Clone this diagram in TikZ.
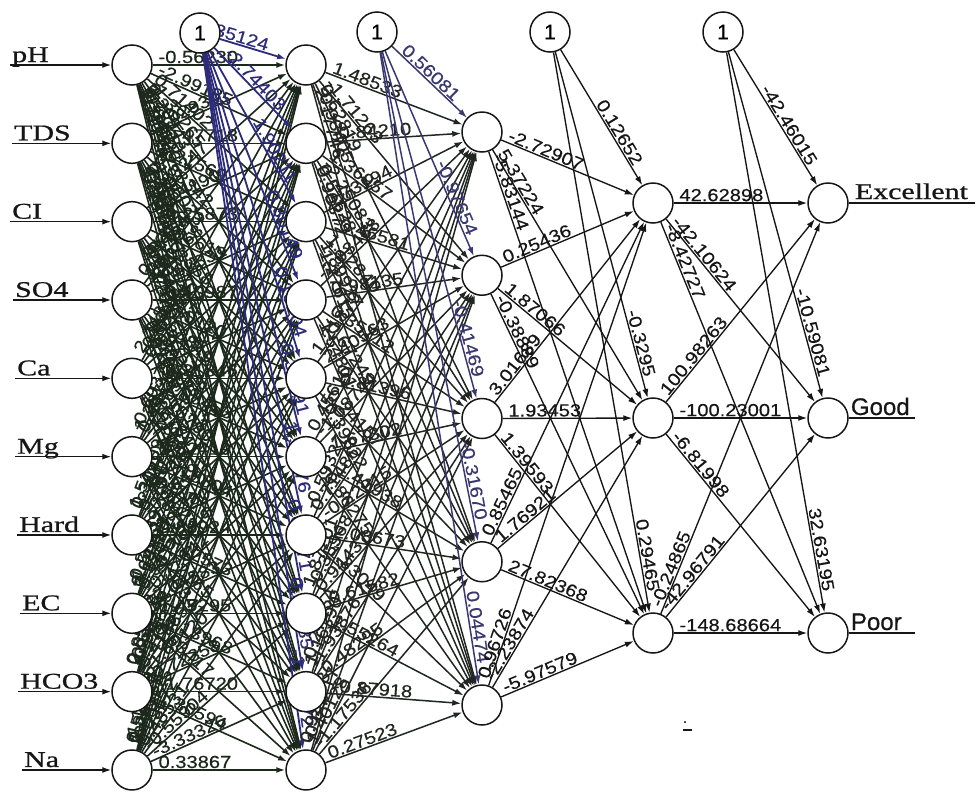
\documentclass[tikz,border=0pt]{standalone}
\usepackage{fontspec}
\setmainfont{Liberation Serif}
\newfontfamily\wfont{Liberation Sans}[FakeStretch=1.15, FakeBold=0.4]
\newfontfamily\widerm{Liberation Serif}[FakeStretch=1.33, FakeBold=0.8]
\newfontfamily\outsans{Liberation Sans}[FakeBold=0.5]
\usetikzlibrary{arrows.meta}
\pgfdeclarelayer{paper}
\pgfdeclarelayer{wires}
\pgfsetlayers{paper,wires,main}

\definecolor{ink}{RGB}{22,22,22}
\definecolor{inkgreen}{RGB}{28,40,28}
\definecolor{inkgrey}{RGB}{34,38,34}
\definecolor{inkblue}{RGB}{44,44,122}
\definecolor{inkviolet}{RGB}{58,56,112}

\tikzset{
  neuron/.style={circle, draw=ink, fill=white, line width=1.5pt, minimum size=40pt, inner sep=0pt},
  bias/.style={neuron, font=\outsans\fontsize{21}{21}\selectfont},
  wire/.style={draw=ink, line width=1.35pt, -{Latex[length=9pt,width=6pt]}},
  plain/.style={draw=ink, line width=1.35pt},
  wl/.style={font=\wfont\fontsize{17.5}{17.5}\selectfont, text=ink, sloped, pos=0, anchor=south west, inner xsep=5pt, inner ysep=1pt},
  bl/.style={wl, pos=1, anchor=south east, inner xsep=20pt},
  inwire/.style={wire, draw=inkgreen, line width=1.6pt},
  inlab/.style={wl, text=inkgreen},
  midwire/.style={wire, draw=inkgrey, line width=1.5pt},
  midlab/.style={wl, text=inkgrey},
  bluewire/.style={wire, draw=inkblue, line width=1.8pt},
  bluelab/.style={bl, text=inkblue},
  violetwire/.style={wire, draw=inkviolet, line width=1.5pt},
  violetlab/.style={bl, text=inkviolet},
  tag/.style={font=\widerm\fontsize{22.5}{22.5}\selectfont, text=ink, inner sep=0pt, anchor=base west},
  sanstag/.style={font=\outsans\fontsize{24}{24}\selectfont, text=ink, inner sep=0pt, anchor=base west},
}

\begin{document}
\begin{tikzpicture}[x=1pt, y=-1pt]
\useasboundingbox (0,0) rectangle (977,793);
\begin{pgfonlayer}{paper}
\fill[white] (0,0) rectangle (977,793);
\end{pgfonlayer}

% ---- neurons ----
\foreach \k in {1,...,10} {
  \node[neuron] (i\k) at (132, {65+78.33*(\k-1)}) {};
  \node[neuron] (h\k) at (306, {65+78.33*(\k-1)}) {};
}
\foreach \k in {1,...,5}
  \node[neuron] (g\k) at (482, {132+143.25*(\k-1)}) {};
\foreach \k/\y in {1/203, 2/418, 3/633} {
  \node[neuron] (k\k) at (653, \y) {};
  \node[neuron] (o\k) at (828, \y) {};
}
\node[bias] (b1) at (200,33) {1};
\node[bias] (b2) at (377,32) {1};
\node[bias] (b3) at (550,32) {1};
\node[bias] (b4) at (723,32) {1};

% ---- input names and their feed lines ----
\foreach \k/\t/\x in {1/pH/10, 2/TDS/12, 3/CI/10, 4/SO4/13, 5/Ca/15,
                      6/Mg/15, 7/Hard/17, 8/EC/20, 9/HCO3/18, 10/Na/22} {
  \coordinate (s\k) at (\x, {65+78.33*(\k-1)});
  \node[tag] (t\k) at ([xshift=2pt, yshift=3pt]s\k) {\t};
}

% ---- outputs ----
\coordinate (e1) at (975,203);
\coordinate (e2) at (915,418);
\coordinate (e3) at (915,633);
\node[tag] (n1) at ([xshift=6pt, yshift=4pt]o1.east) {Excellent};
\node[sanstag] (n2) at ([xshift=2pt, yshift=3pt]o2.east) {Good};
\node[sanstag] (n3) at ([xshift=2pt, yshift=3pt]o3.east) {Poor};

% stray mark below the third hidden layer
\node[font=\outsans\fontsize{14}{14}\selectfont, inner sep=0pt] (mark) at (685,722) {.};
\draw[plain, line width=1.2pt] ([yshift=-7pt]mark.south west) -- ++(9,0);

\begin{pgfonlayer}{wires}
\foreach \k in {1,...,10} \draw[wire] (s\k) -- (i\k);
\foreach \k in {1,2,3} \draw[plain] (o\k) -- (e\k);

% input layer -> first hidden layer
\foreach \b/\w in {1/-0.56230,2/-2.99185,3/0.71402,4/-1.38265,5/0.20943,6/1.75310,7/-0.84126,8/0.39871,9/-1.20457,10/2.11736}
  \draw[inwire] (i1) -- node[inlab]{\w} (h\b);
\foreach \b/\w in {1/1.02934,2/-0.47718,3/3.21569,4/0.88342,5/-1.96023,6/0.15478,7/2.40391,8/-0.73015,9/1.38824,10/-0.29156}
  \draw[inwire] (i2) -- node[inlab]{\w} (h\b);
\foreach \b/\w in {1/-1.83247,2/0.64190,3/-0.25873,4/2.07619,5/0.93358,6/-1.14702,7/0.50236,8/1.69481,9/-2.37105,10/0.81263}
  \draw[inwire] (i3) -- node[inlab]{\w} (h\b);
\foreach \b/\w in {1/0.37754,2/1.90468,3/-1.62331,4/-0.40987,5/2.55120,6/0.68849,7/-0.97532,8/-1.30214,9/0.44678,10/1.07395}
  \draw[inwire] (i4) -- node[inlab]{\w} (h\b);
\foreach \b/\w in {1/2.24816,2/-0.83569,3/0.96127,4/1.47302,5/-0.31846,6/-2.08453,7/1.15790,8/0.27641,9/0.91538,10/-1.44027}
  \draw[inwire] (i5) -- node[inlab]{\w} (h\b);
\foreach \b/\w in {1/-0.69375,2/1.28714,3/0.43052,4/-1.75968,5/1.60237,6/0.52419,7/-0.18804,8/2.31176,9/-0.65293,10/0.98830}
  \draw[inwire] (i6) -- node[inlab]{\w} (h\b);
\foreach \b/\w in {1/1.51609,2/0.30482,3/-2.14735,4/0.79216,5/-0.56491,6/1.33807,7/0.86924,8/-0.42573,9/1.72165,10/-0.90341}
  \draw[inwire] (i7) -- node[inlab]{\w} (h\b);
\foreach \b/\w in {1/-0.24139,2/-1.58227,3/0.69398,4/1.12054,5/0.38716,6/-0.77642,7/2.04583,8/1.49295,9/-0.13968,10/0.63417}
  \draw[inwire] (i8) -- node[inlab]{\w} (h\b);
\foreach \b/\w in {1/0.85372,2/2.63018,3/-0.50946,4/-0.94783,5/1.27431,6/0.41865,7/-1.69120,8/0.72358,9/-1.76720,10/1.30594}
  \draw[inwire] (i9) -- node[inlab]{\w} (h\b);
\foreach \b/\w in {1/-1.12846,2/0.57693,3/1.84417,4/0.26358,5/-0.70125,6/1.09672,7/0.48531,8/-0.55904,9/-3.33326,10/0.33867}
  \draw[inwire] (i10) -- node[inlab]{\w} (h\b);

% intercept of the first hidden layer
\foreach \t/\w in {1/0.35124,2/-2.74403,3/1.90211,4/-0.30149,5/0.13104,6/-0.38291,7/1.54376,8/-0.09271,9/0.24185,10/-1.44072}
  \draw[bluewire] (b1) -- node[bluelab]{\w} (h\t);

% first hidden layer -> second hidden layer
\foreach \s/\ws in {1/{1.48533,-1.71263,0.62819,-0.93405,2.17746},
                    2/{-0.84210,1.36957,-2.25083,0.51628,0.90372},
                    3/{0.73194,-0.46581,1.12840,1.89927,-1.27615},
                    4/{-2.03468,0.98135,0.35712,-0.67249,1.54801},
                    5/{1.21879,2.40563,-0.81396,0.24157,-0.39822},
                    6/{0.45610,-1.08744,1.67302,-1.41938,0.86275},
                    7/{-0.59327,0.71486,-0.22915,2.08673,1.33049},
                    8/{1.87201,-0.35968,0.94437,0.61582,1.55264},
                    9/{-0.27154,1.16390,-1.93876,0.48295,-0.87918},
                    10/{0.92683,-0.64217,1.40128,-1.17536,0.27523}}
  \foreach \w [count=\t] in \ws
    \draw[midwire] (h\s) -- node[midlab]{\w} (g\t);

% intercept of the second hidden layer
\foreach \t/\w in {1/0.56081,2/-0.97654,3/-0.41469,4/-0.31670,5/0.04474}
  \draw[violetwire] (b2) -- node[violetlab]{\w} (g\t);

% second hidden layer -> third hidden layer
\foreach \s/\t/\w in {g1/k1/-2.72907, g1/k2/5.37224, g1/k3/-5.83144,
                      g2/k1/0.25436, g2/k2/1.87066, g2/k3/-0.38889,
                      g3/k1/3.01689, g3/k2/1.93453, g3/k3/1.39593,
                      g4/k1/0.85465, g4/k2/1.76921, g4/k3/27.82368,
                      g5/k1/0.96726, g5/k2/-2.23874, g5/k3/-5.97579}
  \draw[wire] (\s) -- node[wl]{\w} (\t);

% intercept of the third hidden layer
\foreach \t/\w in {k1/0.12652, k2/-0.3295, k3/0.29465}
  \draw[wire] (b3) -- node[bl]{\w} (\t);

% third hidden layer -> outputs
\foreach \s/\t/\w in {k1/o1/42.62898, k1/o2/-42.10624, k1/o3/-8.42727,
                      k2/o1/100.98263, k2/o2/-100.23001, k2/o3/-6.81998,
                      k3/o1/-0.24865, k3/o2/-42.96791, k3/o3/-148.68664}
  \draw[wire] (\s) -- node[wl]{\w} (\t);

% intercept of the output layer
\foreach \t/\w in {o1/-42.46015, o2/-10.59081, o3/32.63195}
  \draw[wire] (b4) -- node[bl]{\w} (\t);
\end{pgfonlayer}
\end{tikzpicture}
\end{document}
